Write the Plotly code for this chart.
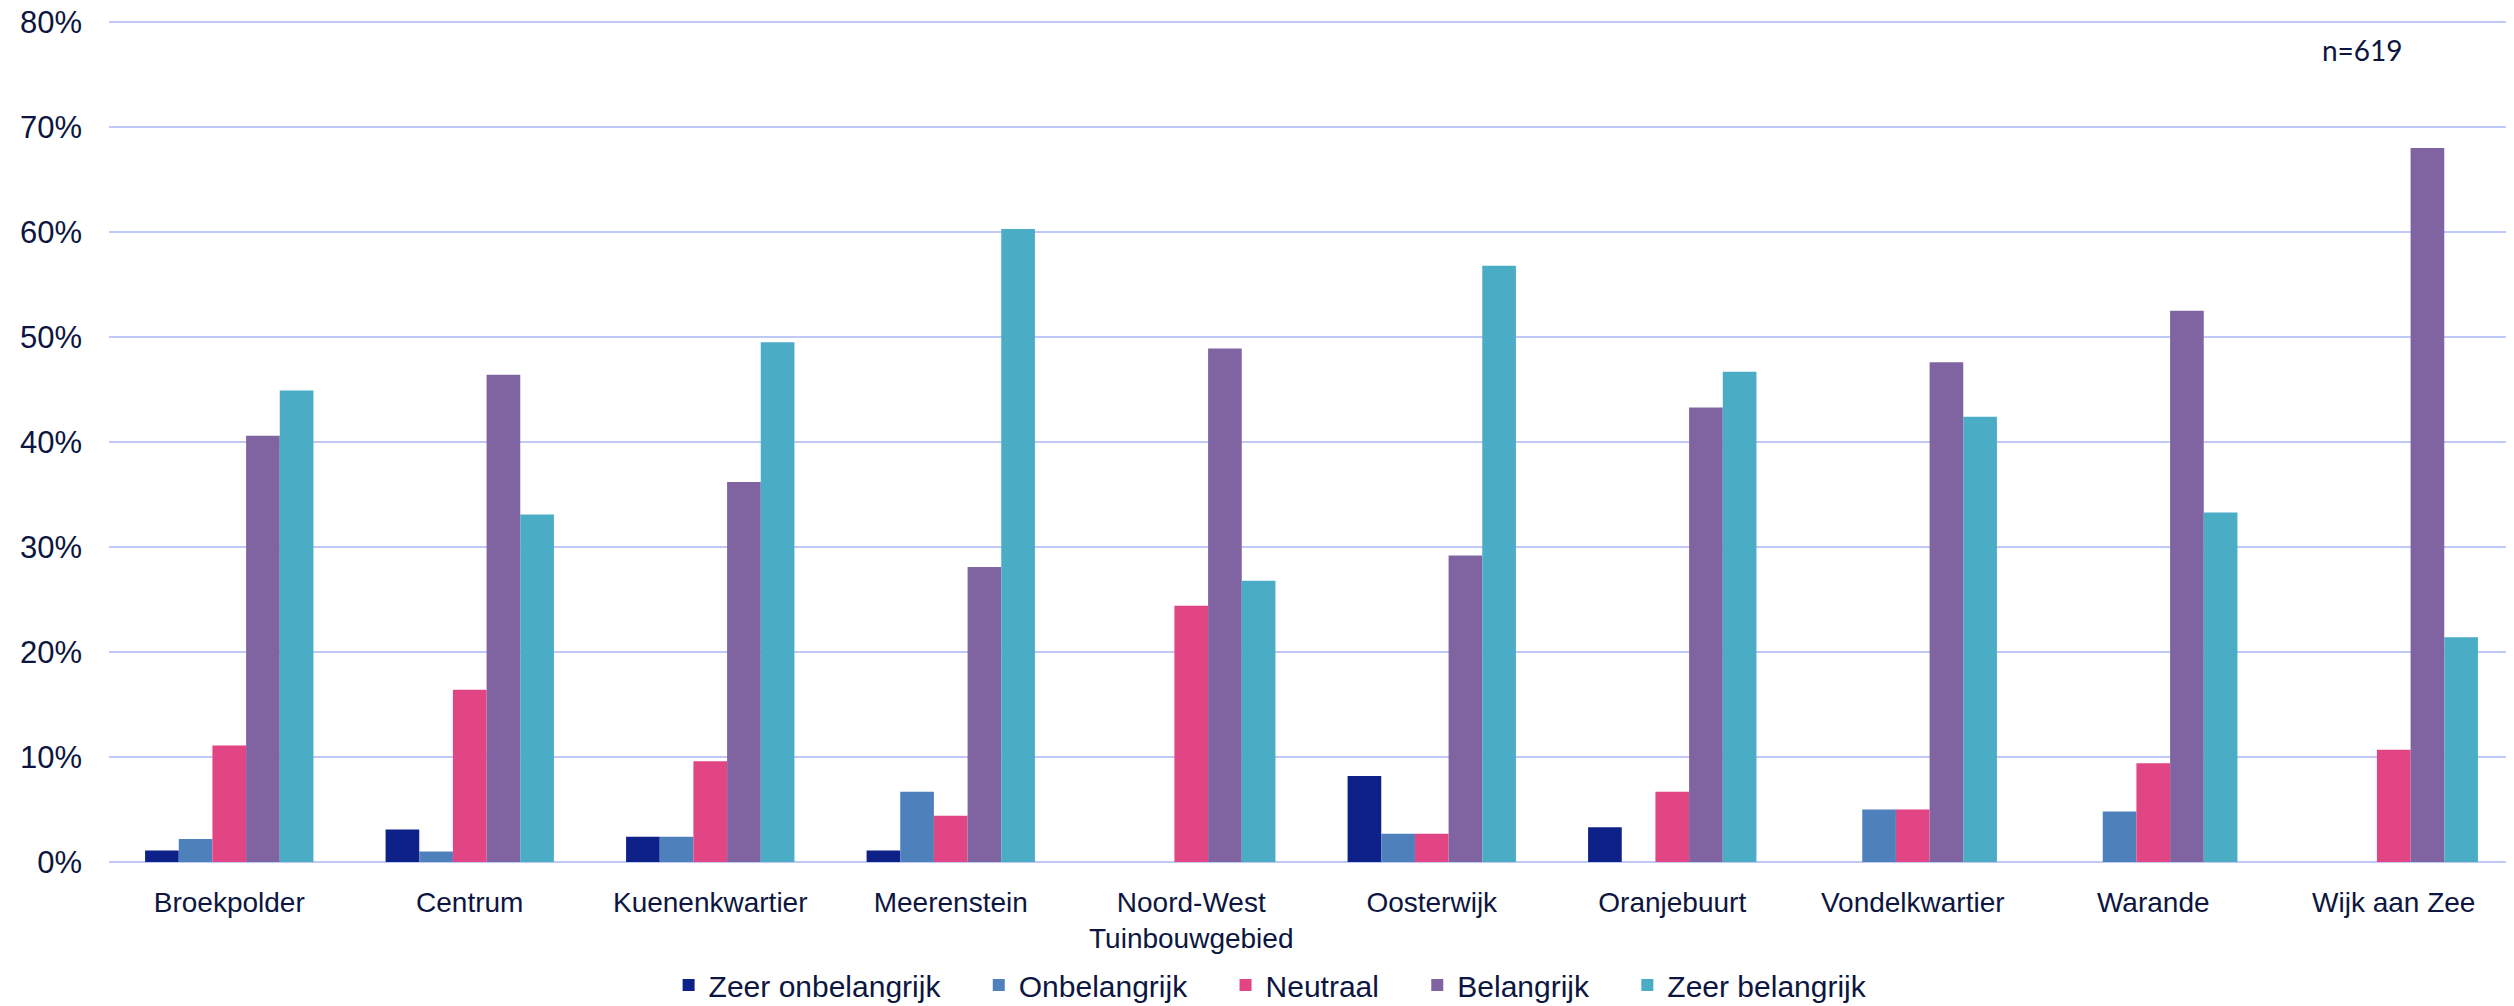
import plotly.graph_objects as go

# Wijken (categories)
wijken = [
    "Broekpolder", "Centrum", "Kuenenkwartier", "Meerenstein",
    "Noord-West<br>Tuinbouwgebied", "Oosterwijk", "Oranjebuurt",
    "Vondelkwartier", "Warande", "Wijk aan Zee",
]

# Percentages per answer category
zeer_onbelangrijk = [1.1, 3.1, 2.4, 1.1, 0, 8.2, 3.3, 0, 0, 0]
onbelangrijk = [2.2, 1.0, 2.4, 6.7, 0, 2.7, 0, 5.0, 4.8, 0]
neutraal = [11.1, 16.4, 9.6, 4.4, 24.4, 2.7, 6.7, 5.0, 9.4, 10.7]
belangrijk = [40.6, 46.4, 36.2, 28.1, 48.9, 29.2, 43.3, 47.6, 52.5, 68.0]
zeer_belangrijk = [44.9, 33.1, 49.5, 60.3, 26.8, 56.8, 46.7, 42.4, 33.3, 21.4]

y_ticks = [0, 10, 20, 30, 40, 50, 60, 70, 80]

series = [
    ("Zeer onbelangrijk", zeer_onbelangrijk, "#0e2188"),
    ("Onbelangrijk", onbelangrijk, "#4e80bc"),
    ("Neutraal", neutraal, "#e24584"),
    ("Belangrijk", belangrijk, "#8064a1"),
    ("Zeer belangrijk", zeer_belangrijk, "#4bacc6"),
]

text_color = "#0c1640"
grid_color = "#c0c8f6"
pad = "\u00a0" * 4  # extra room between legend entries

fig = go.Figure()
for i, (name, values, color) in enumerate(series):
    label = name if i == len(series) - 1 else name + pad
    fig.add_trace(go.Bar(x=wijken, y=values, name=label, marker_color=color,
                         marker_line_width=0))

# page body adds an 8px offset, so the figure is 8px smaller than the window
fig.update_layout(
    width=2506,
    height=998,
    barmode="group",
    bargap=0.3,
    bargroupgap=0,
    plot_bgcolor="white",
    paper_bgcolor="white",
    font=dict(family="Liberation Sans, Arial", size=30, color=text_color),
    margin=dict(l=101, r=0, t=12, b=144, autoexpand=False),
    legend=dict(
        orientation="h",
        x=0.483,
        xanchor="center",
        y=-0.146,
        yanchor="middle",
        font=dict(size=30),
        itemwidth=30,
    ),
    annotations=[
        dict(
            text="n=619",
            xref="paper", yref="paper",
            x=0.937, y=0.964,
            xanchor="center", yanchor="middle",
            showarrow=False,
            font=dict(family="Lato, Open Sans", size=28, color=text_color),
        )
    ],
)

# small headroom so the 80% gridline is not dropped at the edge
fig.update_yaxes(
    range=[0, 80.2],
    tickmode="array",
    tickvals=y_ticks,
    ticktext=[f"{v}%" for v in y_ticks],
    ticklabeloverflow="allow",
    showgrid=True,
    gridcolor=grid_color,
    gridwidth=2,
    zeroline=True,
    zerolinecolor=grid_color,
    zerolinewidth=2,
    ticklabelstandoff=26,
    tickfont=dict(size=31),
    automargin=False,
)
fig.update_xaxes(
    showgrid=False,
    tickfont=dict(size=28),
    ticklabelstandoff=21,
    automargin=False,
)

fig.write_html("out.html")
